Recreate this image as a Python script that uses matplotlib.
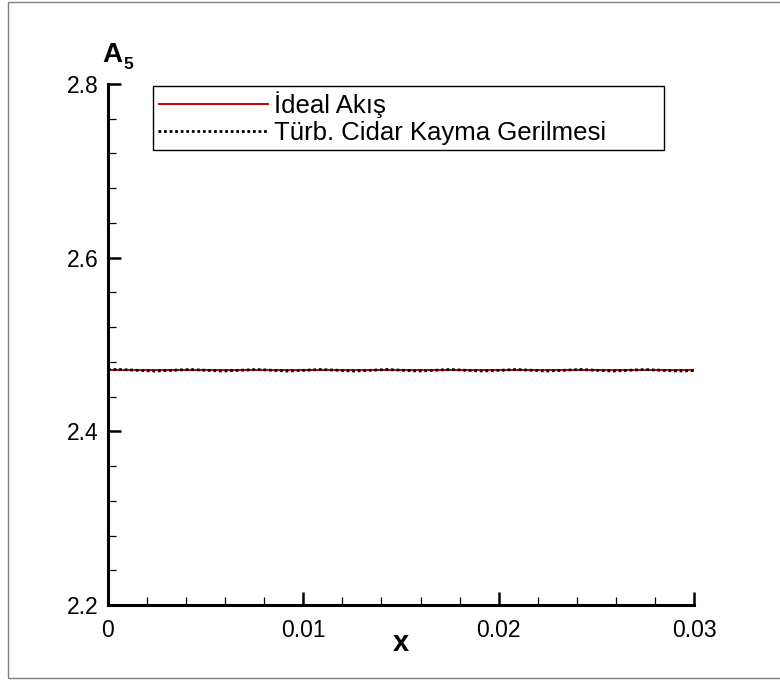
import matplotlib
matplotlib.use("Agg")
import matplotlib.pyplot as plt
from matplotlib.patches import Rectangle
from matplotlib.ticker import MultipleLocator

plt.rcParams['font.family'] = ['Liberation Sans', 'DejaVu Sans']

# Data
ideal_x = [0.0, 0.0075, 0.015, 0.0225, 0.03]
ideal_y = [2.4705, 2.4705, 2.4705, 2.4705, 2.4705]

turb_x = [0.0, 0.0006, 0.0024, 0.0042, 0.0059, 0.0076, 0.0092, 0.0109, 0.0126,
          0.0143, 0.0159, 0.0175, 0.0192, 0.0209, 0.0225, 0.0242, 0.0258,
          0.0275, 0.0292, 0.03]
turb_y = [2.4710, 2.4712, 2.4694, 2.4712, 2.4694, 2.4712, 2.4694, 2.4712, 2.4694,
          2.4712, 2.4694, 2.4712, 2.4694, 2.4712, 2.4694, 2.4712, 2.4694,
          2.4712, 2.4694, 2.4700]

x_ticks = [0, 0.01, 0.02, 0.03]
x_ticklabels = ['0', '0.01', '0.02', '0.03']
y_ticks = [2.2, 2.4, 2.6, 2.8]
y_ticklabels = ['2.2', '2.4', '2.6', '2.8']
labels = ['İdeal Akış', 'Türb. Cidar Kayma Gerilmesi']

W, H = 780, 681
fig = plt.figure(figsize=(W / 100, H / 100), dpi=100)
L, R, T, B = 108, 694, 84, 605
ax = fig.add_axes([L / W, 1 - B / H, (R - L) / W, (B - T) / H])

l1, = ax.plot(ideal_x, ideal_y, color='#d00000', lw=1.4, solid_capstyle='butt')
l2, = ax.plot(turb_x, turb_y, color='black', lw=2.0, linestyle=(0, (1, 1)))

ax.set_xlim(0, 0.03)
ax.set_ylim(2.2, 2.8)
ax.set_xticks(x_ticks)
ax.set_xticklabels(x_ticklabels)
ax.set_yticks(y_ticks)
ax.set_yticklabels(y_ticklabels)
ax.xaxis.set_minor_locator(MultipleLocator(0.002))
ax.yaxis.set_minor_locator(MultipleLocator(0.04))

for s in ['top', 'right']:
    ax.spines[s].set_visible(False)
for s in ['left', 'bottom']:
    ax.spines[s].set_linewidth(2.2)
    ax.spines[s].set_capstyle('projecting')

ax.tick_params(which='major', direction='in', length=9.5, width=1.8,
               labelsize=16.5, colors='black')
ax.tick_params(axis='y', which='major', pad=7)
ax.tick_params(axis='x', which='major', pad=10)
ax.tick_params(which='minor', direction='in', length=5.5, width=0.9)

ax.set_xlabel('x', fontsize=21, fontweight='bold')
ax.xaxis.set_label_coords(0.5, (B - 651) / (B - T))
ax.xaxis.label.set_verticalalignment('baseline')

ax.text((102 - L) / (R - L), (B - 62) / (B - T), 'A', transform=ax.transAxes,
        fontsize=20, fontweight='bold', ha='left', va='baseline')
ax.text((123 - L) / (R - L), (B - 69) / (B - T), '5', transform=ax.transAxes,
        fontsize=12.5, fontweight='bold', ha='left', va='baseline')

fs = 18.5
leg = ax.legend([l1, l2], labels, loc='upper left',
                bbox_to_anchor=((153 - L) / (R - L), (B - 152) / (B - T),
                                (664 - 153) / (R - L), (152 - 86) / (B - T)),
                mode='expand', borderaxespad=0, fontsize=fs,
                handlelength=4.3, handletextpad=0.2, labelspacing=0.12,
                borderpad=0.2, fancybox=False, frameon=True, framealpha=1,
                edgecolor='black')
leg.get_frame().set_linewidth(1.0)

fig.add_artist(Rectangle((8 / W, 1 - 678 / H), 1.0, 1 - 2 / H - (1 - 678 / H),
                         transform=fig.transFigure, fill=False,
                         edgecolor='#808080', lw=1.0, clip_on=False))

fig.savefig('out.png', dpi=100)
